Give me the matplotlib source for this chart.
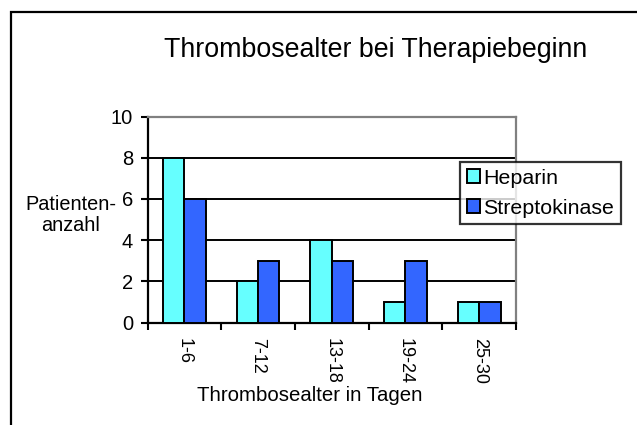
import matplotlib.pyplot as plt
import numpy as np
from matplotlib.patches import Rectangle

plt.rcParams['font.family'] = ['Liberation Sans', 'DejaVu Sans']

# data
categories = ["1-6", "7-12", "13-18", "19-24", "25-30"]
heparin = [8, 2, 4, 1, 1]
streptokinase = [6, 3, 3, 3, 1]
yticks = [0, 2, 4, 6, 8, 10]

W, H = 637, 425
fig = plt.figure(figsize=(W / 100, H / 100), dpi=100)

# outer frame (only left and top visible in the image)
frame = Rectangle((11 / W, -0.05), 1.2, 1 - 12 / H + 0.05, transform=fig.transFigure,
                  fill=False, edgecolor="black", linewidth=1.6, clip_on=False)
fig.patches.append(frame)

ax = fig.add_axes([147.5 / W, 1 - 322.5 / H, (516 - 147.5) / W, (322.5 - 116.5) / H])

x = np.arange(len(categories))
bw = 0.29
ax.bar(x - bw / 2, heparin, bw, color="#66FFFF", edgecolor="black", linewidth=1.4,
       label="Heparin", zorder=3)
ax.bar(x + bw / 2, streptokinase, bw, color="#3366FF", edgecolor="black", linewidth=1.4,
       label="Streptokinase", zorder=3)

ax.set_xlim(-0.5, len(categories) - 0.5)
ax.set_ylim(0, 10)
ax.set_yticks(yticks)
ax.set_yticklabels([str(v) for v in yticks], fontsize=14.5)
for v in yticks[1:-1]:
    ax.axhline(v, color="black", linewidth=1.4, zorder=1)

ax.set_xticks(x)
ax.set_xticklabels(categories, rotation=-90, fontsize=13, va="top", ha="center")
ax.set_xticks(np.arange(len(categories) + 1) - 0.5, minor=True)
ax.tick_params(axis="x", which="major", length=0, pad=11)
ax.tick_params(axis="x", which="minor", length=5, width=1.5, direction="out")
ax.tick_params(axis="y", length=5, width=1.5, direction="out", pad=5.5)

for s in ["left", "bottom"]:
    ax.spines[s].set_color("black")
    ax.spines[s].set_linewidth(1.6)
for s in ["top", "right"]:
    ax.spines[s].set_color("#808080")
    ax.spines[s].set_linewidth(1.6)

fig.text(376 / W, 1 - 57 / H, "Thrombosealter bei Therapiebeginn", fontsize=19.3,
         ha="center", va="baseline")
fig.text(71 / W, 1 - 231 / H, "Patienten-\nanzahl", fontsize=14.3, ha="center",
         va="baseline", multialignment="center", linespacing=1.15)
fig.text(310 / W, 1 - 401 / H, "Thrombosealter in Tagen", fontsize=14.7,
         ha="center", va="baseline")

leg = ax.legend(loc="upper left", bbox_to_anchor=(460 / W, 1 - 162 / H),
                bbox_transform=fig.transFigure, fontsize=15.4, frameon=True, fancybox=False,
                handlelength=0.62, handleheight=0.62, handletextpad=0.15, borderpad=0.32,
                labelspacing=0.5, borderaxespad=0)
leg.get_frame().set_edgecolor("black")
leg.get_frame().set_linewidth(1.6)

fig.savefig("out.png", dpi=100)
